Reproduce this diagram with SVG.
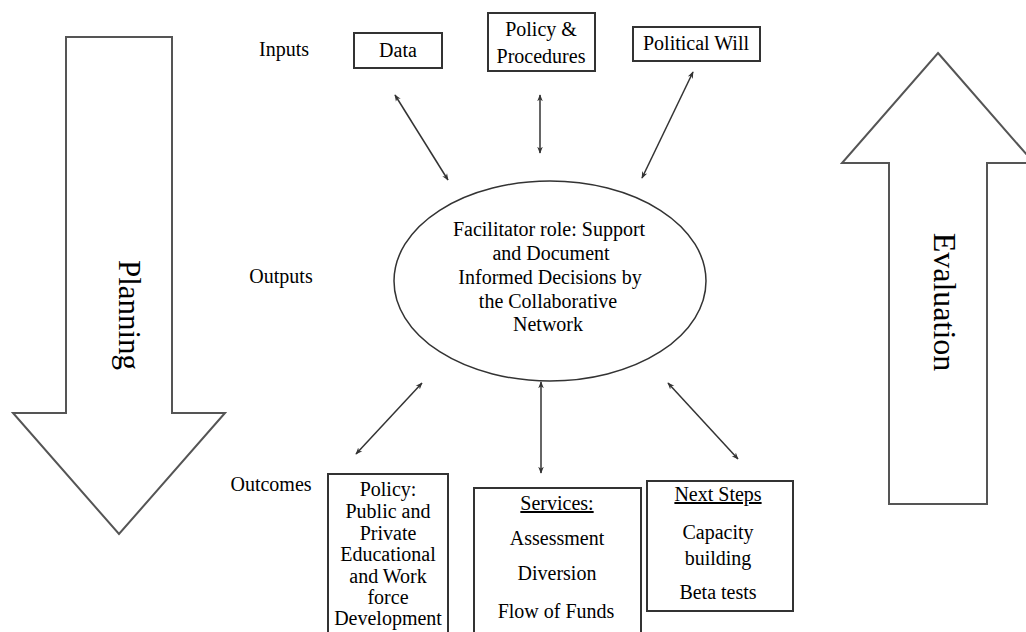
<svg xmlns="http://www.w3.org/2000/svg" width="1026" height="632" viewBox="0 0 1026 632">
<defs>
<style>
text{font-family:"Liberation Serif","Times New Roman",serif;font-size:20px;fill:#000}
.c{text-anchor:middle}
.box{fill:#fff;stroke:#333;stroke-width:2}
.big{fill:#fff;stroke:#555;stroke-width:2}
.con{stroke:#333;stroke-width:1.5;fill:none;marker-start:url(#ah);marker-end:url(#ah)}
.u{text-decoration:underline}
</style>
<marker id="ah" viewBox="0 0 10 10" refX="9" refY="5" markerWidth="7" markerHeight="7" markerUnits="userSpaceOnUse" orient="auto-start-reverse">
<path d="M0,1 L10,5 L0,9 L3,5 Z" fill="#333"/>
</marker>
</defs>
<rect width="1026" height="632" fill="#fff"/>
<g id="planning">
<polygon class="big" points="66,37 172,37 172,413 225,413 119,534 13,413 66,413"/>
<text transform="translate(119,315) rotate(90)" class="c" style="font-size:31px">Planning</text>
</g>
<g id="evaluation">
<polygon class="big" points="938,53 1034,163 987,163 987,504 889,504 889,163 842,163"/>
<text transform="translate(934,302) rotate(90)" class="c" style="font-size:32px">Evaluation</text>
</g>
<g id="labels">
<text x="284" y="56" class="c">Inputs</text>
<text x="281" y="283" class="c">Outputs</text>
<text x="271" y="491" class="c">Outcomes</text>
</g>
<g id="data">
<rect class="box" x="354" y="33" width="88" height="35"/>
<text x="398" y="57" class="c">Data</text>
</g>
<g id="policy-procedures">
<rect class="box" x="488" y="13" width="107" height="58"/>
<text x="541" y="36" class="c">Policy &amp;</text>
<text x="541" y="63" class="c">Procedures</text>
</g>
<g id="political-will">
<rect class="box" x="633" y="27" width="127" height="34"/>
<text x="696" y="50" class="c">Political Will</text>
</g>
<g id="facilitator">
<ellipse cx="550" cy="281" rx="156" ry="100" fill="#fff" stroke="#333" stroke-width="1.5"/>
<text x="549" y="236" class="c">Facilitator role:  Support</text>
<text x="551" y="260" class="c">and Document</text>
<text x="550" y="284" class="c">Informed Decisions by</text>
<text x="548" y="308" class="c">the  Collaborative</text>
<text x="548" y="331" class="c">Network</text>
</g>
<g id="policy-outcome">
<rect class="box" x="328" y="474" width="120" height="170"/>
<g style="font-size:18.5px">
<text x="388" y="496" class="c">Policy:</text>
<text x="388" y="518" class="c">Public and</text>
<text x="388" y="540" class="c">Private</text>
<text x="388" y="561" class="c">Educational</text>
<text x="388" y="583" class="c">and Work</text>
<text x="388" y="604" class="c">force</text>
<text x="388" y="625" class="c">Development</text>
</g>
</g>
<g id="services">
<rect class="box" x="474" y="488" width="167" height="160"/>
<text x="557" y="510" class="c u">Services:</text>
<text x="557" y="545" class="c">Assessment</text>
<text x="557" y="580" class="c">Diversion</text>
<text x="556" y="618" class="c">Flow of Funds</text>
</g>
<g id="next-steps">
<rect class="box" x="647" y="481" width="146" height="130"/>
<text x="718" y="501" class="c u">Next Steps</text>
<text x="718" y="539" class="c">Capacity</text>
<text x="718" y="565" class="c">building</text>
<text x="718" y="599" class="c">Beta tests</text>
</g>
<g id="connectors">
<line class="con" x1="395" y1="95" x2="448" y2="180"/>
<line class="con" x1="540" y1="95" x2="540" y2="153"/>
<line class="con" x1="693" y1="72" x2="642" y2="178"/>
<line class="con" x1="422" y1="383" x2="356" y2="454"/>
<line class="con" x1="541" y1="382" x2="541" y2="473"/>
<line class="con" x1="668" y1="383" x2="738" y2="459"/>
</g>
</svg>
